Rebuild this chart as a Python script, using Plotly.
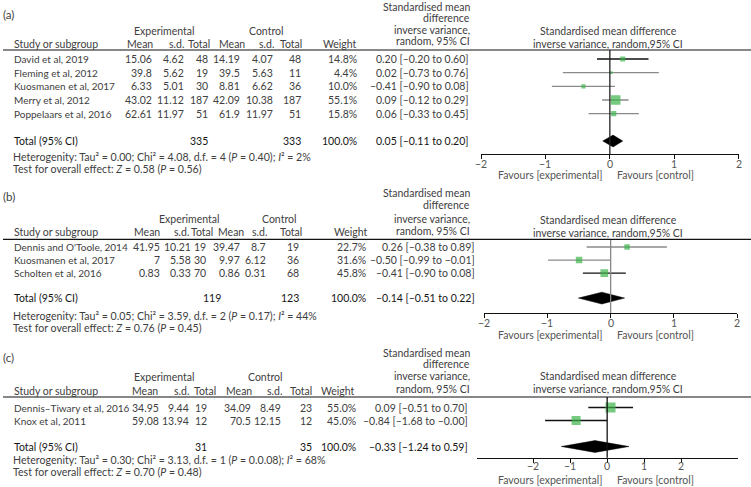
import plotly.graph_objects as go

W, H = 751, 487
FONT = "Lato"
FS = 10.5
TXT = "#404040"
DARK = "#151515"
GREEN = "#3cb54a"
GRAY = "#8a8a8a"

# ---------------- data ----------------
A_studies = ["David et al, 2019", "Fleming et al, 2012", "Kuosmanen et al, 2017",
             "Merry et al, 2012", "Poppelaars et al, 2016"]
A_exp_mean = [15.06, 39.8, 6.33, 43.02, 62.61]
A_exp_sd = [4.62, 5.62, 5.01, 11.12, 11.97]
A_exp_n = [48, 19, 30, 187, 51]
A_ctl_mean = [14.19, 39.5, 8.81, 42.09, 61.9]
A_ctl_sd = [4.07, 5.63, 6.62, 10.38, 11.97]
A_ctl_n = [48, 11, 36, 187, 51]
A_weight = [14.8, 4.4, 10.0, 55.1, 15.8]
A_ci_text = ["0.20 [–0.20 to 0.60]", "0.02 [–0.73 to 0.76]", "–0.41 [–0.90 to 0.08]",
             "0.09 [–0.12 to 0.29]", "0.06 [–0.33 to 0.45]"]
A_smd = [0.20, 0.02, -0.41, 0.09, 0.06]
A_lo = [-0.20, -0.73, -0.90, -0.12, -0.33]
A_hi = [0.60, 0.76, 0.08, 0.29, 0.45]
A_total = {"exp_n": 335, "ctl_n": 333, "weight": "100.0%", "ci": "0.05 [–0.11 to 0.20]",
           "smd": 0.05, "lo": -0.11, "hi": 0.20}
A_het = "Heterogenity: Tau² = 0.00; Chi² = 4.08, d.f. = 4 (<i>P</i> = 0.40); <i>I</i>² = 2%"
A_test = "Test for overall effect: <i>Z</i> = 0.58 (<i>P</i> = 0.56)"

B_studies = ["Dennis and O'Toole, 2014", "Kuosmanen et al, 2017", "Scholten et al, 2016"]
B_exp_mean = [41.95, 7, 0.83]
B_exp_sd = [10.21, 5.58, 0.33]
B_exp_n = [19, 30, 70]
B_ctl_mean = [39.47, 9.97, 0.86]
B_ctl_sd = [8.7, 6.12, 0.31]
B_ctl_n = [19, 36, 68]
B_weight = [22.7, 31.6, 45.8]
B_ci_text = ["0.26 [–0.38 to 0.89]", "–0.50 [–0.99 to –0.01]", "–0.41 [–0.90 to 0.08]"]
B_smd = [0.26, -0.50, -0.10]
B_lo = [-0.38, -0.99, -0.44]
B_hi = [0.89, -0.01, 0.24]
B_total = {"exp_n": 119, "ctl_n": 123, "weight": "100.0%", "ci": "–0.14 [–0.51 to 0.22]",
           "smd": -0.14, "lo": -0.51, "hi": 0.22}
B_het = "Heterogenity: Tau² = 0.05; Chi² = 3.59, d.f. = 2 (<i>P</i> = 0.17); <i>I</i>² = 44%"
B_test = "Test for overall effect: <i>Z</i> = 0.76 (<i>P</i> = 0.45)"

C_studies = ["Dennis–Tiwary et al, 2016", "Knox et al, 2011"]
C_exp_mean = [34.95, 59.08]
C_exp_sd = [9.44, 13.94]
C_exp_n = [19, 12]
C_ctl_mean = [34.09, 70.5]
C_ctl_sd = [8.49, 12.15]
C_ctl_n = [23, 12]
C_weight = [55.0, 45.0]
C_ci_text = ["0.09 [–0.51 to 0.70]", "–0.84 [–1.68 to –0.00]"]
C_smd = [0.09, -0.84]
C_lo = [-0.51, -1.68]
C_hi = [0.70, 0.00]
C_total = {"exp_n": 31, "ctl_n": 35, "weight": "100.0%", "ci": "–0.33 [–1.24 to 0.59]",
           "smd": -0.33, "lo": -1.24, "hi": 0.59}
C_het = "Heterogenity: Tau² = 0.30; Chi² = 3.13, d.f. = 1 (<i>P</i> = 0.0.08); <i>I</i>² = 68%"
C_test = "Test for overall effect: <i>Z</i> = 0.70 (<i>P</i> = 0.48)"

tick_vals = [-2, -1, 0, 1, 2]
tick_text = ["−2", "−1", "0", "1", "2"]

# ---------------- layout config (pixels) ----------------
panels = [
    dict(label="(a)", label_y=15,
         studies=A_studies, exp_mean=A_exp_mean, exp_sd=A_exp_sd, exp_n=A_exp_n,
         ctl_mean=A_ctl_mean, ctl_sd=A_ctl_sd, ctl_n=A_ctl_n, weight=A_weight,
         ci_text=A_ci_text, smd=A_smd, lo=A_lo, hi=A_hi, total=A_total,
         het=A_het, test=A_test,
         ci_colors=["#111", GRAY, GRAY, GRAY, GRAY], zero_color="#222",
         row0=59, step=13.67, total_idx=6, top=50, bottom=154,
         hdr=[7, 18.5, 30, 41.5], exp_y=31, study_y=43.5, ph=[31, 44],
         het_y=157, test_y=169, tick_y=163.5, fav_y=175.5,
         xdom=(481, 738.7), xrange=(-2, 2),
         cols=dict(exp_mean=153, exp_sd=185, exp_n=209, exp_nt=209, ctl_mean=241, ctl_sd=274,
                   ctl_n=302, weight=358, ci=470),
         hcols=dict(m1=154, s1=185, t1=211, m2=246, s2=275, t2=303, w=358),
         exp_c=164, ctl_c=266, msz=1.3),
    dict(label="(b)", label_y=197,
         studies=B_studies, exp_mean=B_exp_mean, exp_sd=B_exp_sd, exp_n=B_exp_n,
         ctl_mean=B_ctl_mean, ctl_sd=B_ctl_sd, ctl_n=B_ctl_n, weight=B_weight,
         ci_text=B_ci_text, smd=B_smd, lo=B_lo, hi=B_hi, total=B_total,
         het=B_het, test=B_test,
         ci_colors=[GRAY, GRAY, "#111"], zero_color="#888",
         row0=247, step=13.1, total_idx=3.9, top=239.3, bottom=313,
         hdr=[193.3, 205, 219.3, 230.7], exp_y=219.5, study_y=232, ph=[220, 233],
         het_y=316, test_y=328, tick_y=323, fav_y=334.5,
         xdom=(484.3, 737), xrange=(-2, 2),
         cols=dict(exp_mean=161, exp_sd=192, exp_n=207, exp_nt=222, ctl_mean=241, ctl_sd=267,
                   ctl_n=300, weight=367, ci=476),
         hcols=dict(m1=161, s1=190, t1=214, m2=245, s2=268, t2=303, w=369),
         exp_c=189, ctl_c=279, msz=1.15),
    dict(label="(c)", label_y=357,
         studies=C_studies, exp_mean=C_exp_mean, exp_sd=C_exp_sd, exp_n=C_exp_n,
         ctl_mean=C_ctl_mean, ctl_sd=C_ctl_sd, ctl_n=C_ctl_n, weight=C_weight,
         ci_text=C_ci_text, smd=C_smd, lo=C_lo, hi=C_hi, total=C_total,
         het=C_het, test=C_test,
         ci_colors=["#111", "#111"], zero_color="#111",
         row0=407.5, step=13, total_idx=3, top=397, bottom=457.7,
         hdr=[352.7, 364, 376, 389.3], exp_y=376.5, study_y=390.5, ph=[375.5, 389.3],
         het_y=460, test_y=472, tick_y=466, fav_y=479.5,
         xdom=(476.7, 738), xrange=(-3.53, 3.54),
         cols=dict(exp_mean=160, exp_sd=190, exp_n=208, exp_nt=208, ctl_mean=252, ctl_sd=282,
                   ctl_n=313, weight=356.5, ci=468.5),
         hcols=dict(m1=159, s1=190, t1=217, m2=253, s2=283, t2=313, w=356),
         exp_c=164, ctl_c=264.5, msz=1.35),
]


def pxx(x):
    return x / W


def pyy(y):
    return 1 - y / H


fig = go.Figure()
annotations = []
shapes = []
layout_axes = {}


def ann(text, x, y, anchor="left", yref="paper", color=TXT, size=FS, xref="paper"):
    annotations.append(dict(text=text, x=pxx(x) if xref == "paper" else x, xref=xref,
                            y=y if yref != "paper" else pyy(y),
                            yref=yref, xanchor=anchor, yanchor="middle", showarrow=False,
                            borderpad=0,
                            font=dict(family=FONT, size=size, color=color)))


for k, p in enumerate(panels):
    n = k + 1
    xa = "x" if n == 1 else f"x{n}"
    ya = "y" if n == 1 else f"y{n}"
    xkey = "xaxis" if n == 1 else f"xaxis{n}"
    ykey = "yaxis" if n == 1 else f"yaxis{n}"
    ymin = (p["top"] - p["row0"]) / p["step"]
    ymax = (p["bottom"] - p["row0"]) / p["step"]
    layout_axes[xkey] = dict(domain=[pxx(p["xdom"][0]), pxx(p["xdom"][1])], range=list(p["xrange"]),
                             anchor=ya, showline=True, linecolor="#111", linewidth=1.2,
                             ticks="outside", ticklen=4, tickwidth=1.2, tickcolor="#111",
                             tickvals=tick_vals, showticklabels=False, showgrid=False, zeroline=False,
                             fixedrange=True)
    layout_axes[ykey] = dict(domain=[pyy(p["bottom"]), pyy(p["top"])], range=[ymax, ymin],
                             anchor=xa, visible=False, fixedrange=True)

    # tick labels placed through the panel's x scale
    for tv, tt in zip(tick_vals, tick_text):
        ann(tt, tv, p["tick_y"], "center", color="#555", xref=xa)

    # zero line
    shapes.append(dict(type="line", xref=xa, yref=f"{ya} domain", x0=0, x1=0, y0=0, y1=1,
                       line=dict(color=p["zero_color"], width=1.3)))
    # header line
    shapes.append(dict(type="line", xref="paper", yref="paper", x0=pxx(3), x1=1,
                       y0=pyy(p["top"]), y1=pyy(p["top"]), line=dict(color="#111", width=1.2)))

    nrow = len(p["studies"])
    for i in range(nrow):
        fig.add_trace(go.Scatter(x=[p["lo"][i], p["hi"][i]], y=[i, i], xaxis=xa, yaxis=ya,
                                 mode="lines", line=dict(color=p["ci_colors"][i], width=1.3),
                                 hoverinfo="skip", showlegend=False))
    sizes = [max(2.5, p["msz"] * (w ** 0.5)) for w in p["weight"]]
    fig.add_trace(go.Scatter(x=p["smd"], y=list(range(nrow)), xaxis=xa, yaxis=ya, mode="markers",
                             marker=dict(symbol="square", size=sizes, color=GREEN, line=dict(width=0)),
                             showlegend=False, hoverinfo="skip"))
    t = p["total"]
    T = p["total_idx"]
    h = 5.9 / p["step"]
    fig.add_trace(go.Scatter(x=[t["lo"], t["smd"], t["hi"], t["smd"], t["lo"]],
                             y=[T, T - h, T, T + h, T], xaxis=xa, yaxis=ya, mode="lines",
                             fill="toself", fillcolor="#000", line=dict(color="#000", width=0.5),
                             showlegend=False, hoverinfo="skip"))

    c = p["cols"]
    hc = p["hcols"]
    ann(p["label"], 2, p["label_y"], size=11.5)
    ann("Experimental", p["exp_c"], p["exp_y"], "center")
    ann("Control", p["ctl_c"], p["exp_y"], "center")
    ann("Study or subgroup", 12.7, p["study_y"])
    for lab, key in [("Mean", "m1"), ("s.d.", "s1"), ("Total", "t1"), ("Mean", "m2"),
                     ("s.d.", "s2"), ("Total", "t2"), ("Weight", "w")]:
        ann(lab, hc[key], p["study_y"], "right")
    for lab, yy in zip(["Standardised mean", "difference", "inverse variance,", "random, 95% CI"], p["hdr"]):
        ann(lab, 471, yy, "right")
    ann("Standardised mean difference", 608, p["ph"][0], "center")
    ann("inverse variance, random,95% CI", 608, p["ph"][1], "center")

    for i in range(nrow):
        ann(p["studies"][i], 12.7, i, "left", yref=ya, size=10)
        ann(str(p["exp_mean"][i]), c["exp_mean"], i, "right", yref=ya)
        ann(str(p["exp_sd"][i]), c["exp_sd"], i, "right", yref=ya)
        ann(str(p["exp_n"][i]), c["exp_n"], i, "right", yref=ya)
        ann(str(p["ctl_mean"][i]), c["ctl_mean"], i, "right", yref=ya)
        ann(str(p["ctl_sd"][i]), c["ctl_sd"], i, "right", yref=ya)
        ann(str(p["ctl_n"][i]), c["ctl_n"], i, "right", yref=ya)
        ann(f"{p['weight'][i]:.1f}%", c["weight"], i, "right", yref=ya)
        ann(p["ci_text"][i], c["ci"], i, "right", yref=ya)

    ann("Total (95% CI)", 12.7, T, "left", yref=ya, color=DARK)
    ann(str(t["exp_n"]), c["exp_nt"], T, "right", yref=ya, color=DARK)
    ann(str(t["ctl_n"]), c["ctl_n"], T, "right", yref=ya, color=DARK)
    ann(t["weight"], c["weight"], T, "right", yref=ya, color=DARK)
    ann(t["ci"], c["ci"], T, "right", yref=ya, color=DARK)

    ann(p["het"], 11.5, p["het_y"], size=10.6)
    ann(p["test"], 11.5, p["test_y"], size=10.6)

    ann("Favours [experimental]", 603, p["fav_y"], "right", color="#555")
    ann("Favours [control]", 616, p["fav_y"], "left", color="#555")

fig.update_layout(width=W, height=H, margin=dict(l=0, r=0, t=0, b=0),
                  paper_bgcolor="white", plot_bgcolor="rgba(0,0,0,0)",
                  annotations=annotations, shapes=shapes, showlegend=False,
                  font=dict(family=FONT, size=FS, color=TXT), **layout_axes)

fig.write_html("out.html", config={"displayModeBar": False},
               post_script="document.body.style.margin='0px';")
